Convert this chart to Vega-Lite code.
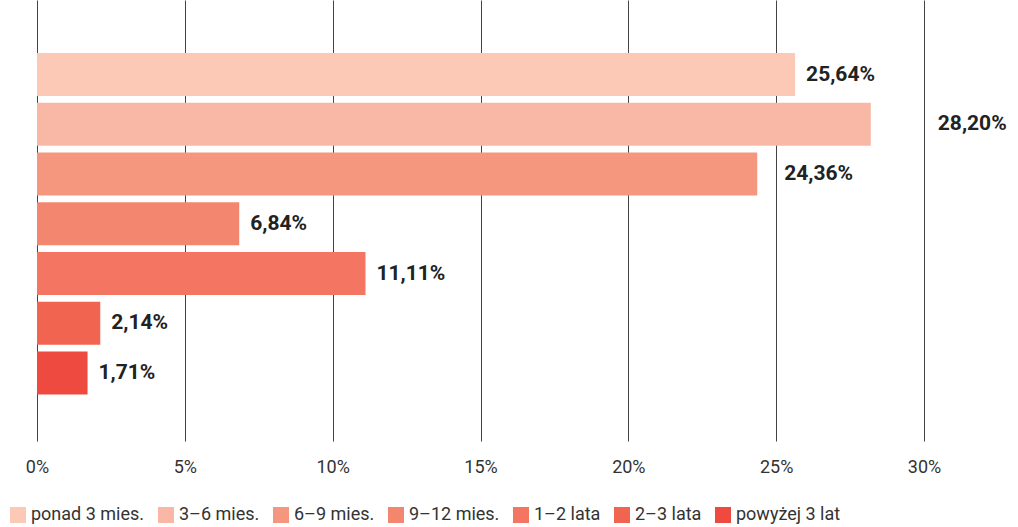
{
  "$schema": "https://vega.github.io/schema/vega-lite/v6.json",
  "width": 887,
  "height": 441,
  "autosize": {"type": "none"},
  "padding": {"left": 37, "top": 0, "right": 94, "bottom": 86},
  "background": "white",
  "config": {"view": {"stroke": null}, "font": "Roboto"},
  "data": {
    "values": [
      {"category": "ponad 3 mies.", "value": 25.64, "label": "25,64%"},
      {"category": "3–6 mies.", "value": 28.2, "label": "28,20%"},
      {"category": "6–9 mies.", "value": 24.36, "label": "24,36%"},
      {"category": "9–12 mies.", "value": 6.84, "label": "6,84%"},
      {"category": "1–2 lata", "value": 11.11, "label": "11,11%"},
      {"category": "2–3 lata", "value": 2.14, "label": "2,14%"},
      {"category": "powyżej 3 lat", "value": 1.71, "label": "1,71%"}
    ]
  },
  "encoding": {
    "y": {
      "field": "category",
      "type": "nominal",
      "sort": null,
      "axis": null,
      "scale": {"paddingInner": 0.137, "paddingOuter": 1.023, "align": 0.533}
    },
    "x": {
      "field": "value",
      "type": "quantitative",
      "scale": {"domain": [0, 30], "nice": false},
      "axis": {
        "title": null,
        "domain": false,
        "ticks": false,
        "grid": true,
        "gridColor": "#444444",
        "gridWidth": 1,
        "gridOpacity": 1,
        "values": [0, 5, 10, 15, 20, 25, 30],
        "labelExpr": "datum.value + '%'",
        "labelFlush": false,
        "labelFont": "Roboto",
        "labelFontSize": 18,
        "labelColor": "#333333",
        "labelPadding": 17
      }
    }
  },
  "layer": [
    {
      "mark": {"type": "bar"},
      "encoding": {
        "color": {
          "field": "category",
          "type": "nominal",
          "sort": null,
          "scale": {
            "domain": ["ponad 3 mies.", "3–6 mies.", "6–9 mies.", "9–12 mies.", "1–2 lata", "2–3 lata", "powyżej 3 lat"],
            "range": ["#fbc9b6", "#f9b8a5", "#f4977e", "#f2866e", "#f37562", "#f06450", "#ee4a40"]
          },
          "legend": {
            "title": null,
            "orient": "none",
            "legendX": -28,
            "legendY": 506,
            "direction": "horizontal",
            "columns": 7,
            "symbolType": "square",
            "symbolSize": 256,
            "symbolStrokeWidth": 0,
            "symbolOpacity": 1,
            "labelFont": "Roboto",
            "labelFontSize": 18,
            "labelColor": "#333333",
            "labelOffset": 4,
            "columnPadding": 12
          }
        }
      }
    },
    {
      "transform": [{"filter": "datum.category !== '6–9 mies.' && datum.category !== '3–6 mies.'"}],
      "mark": {"type": "text", "align": "left", "baseline": "middle", "dx": 11, "font": "Roboto", "fontWeight": "bold", "fontSize": 21, "color": "#222222"},
      "encoding": {"text": {"field": "label"}}
    },
    {
      "transform": [{"filter": "datum.category === '6–9 mies.'"}],
      "mark": {"type": "text", "align": "left", "baseline": "middle", "dx": 27, "font": "Roboto", "fontWeight": "bold", "fontSize": 21, "color": "#222222"},
      "encoding": {"text": {"field": "label"}}
    },
    {
      "transform": [{"filter": "datum.category === '3–6 mies.'"}],
      "mark": {"type": "text", "align": "left", "baseline": "middle", "dx": 67, "font": "Roboto", "fontWeight": "bold", "fontSize": 21, "color": "#222222"},
      "encoding": {"text": {"field": "label"}}
    }
  ]
}
